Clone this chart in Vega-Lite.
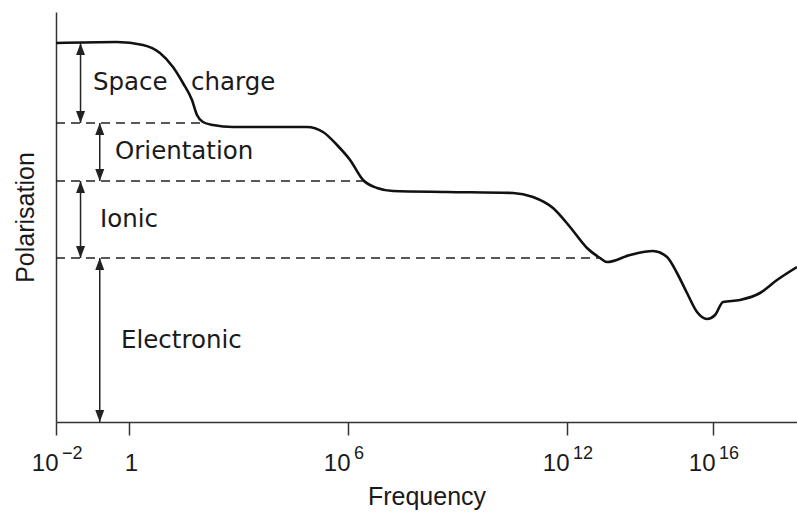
{
  "$schema": "https://vega.github.io/schema/vega-lite/v6.json",
  "width": 741,
  "height": 410,
  "autosize": {"type": "none"},
  "padding": {"left": 56, "top": 12, "right": 0, "bottom": 92},
  "background": "white",
  "config": {"view": {"stroke": null}, "font": "Liberation Sans"},
  "datasets": {
    "curve": [
      {"frequency": 0.01, "polarisation": 37.9},
      {"frequency": 0.468, "polarisation": 38.0},
      {"frequency": 2.42, "polarisation": 37.7},
      {"frequency": 7.06, "polarisation": 36.9},
      {"frequency": 16.0, "polarisation": 35.5},
      {"frequency": 30.1, "polarisation": 33.9},
      {"frequency": 53.2, "polarisation": 32.2},
      {"frequency": 72.9, "polarisation": 30.7},
      {"frequency": 106, "polarisation": 30.0},
      {"frequency": 200, "polarisation": 29.7},
      {"frequency": 706, "polarisation": 29.5},
      {"frequency": 13700, "polarisation": 29.5},
      {"frequency": 75300, "polarisation": 29.5},
      {"frequency": 2.07e5, "polarisation": 29.0},
      {"frequency": 5.0e5, "polarisation": 27.7},
      {"frequency": 1.14e6, "polarisation": 26.2},
      {"frequency": 2.58e6, "polarisation": 24.2},
      {"frequency": 6.24e6, "polarisation": 23.4},
      {"frequency": 1.71e7, "polarisation": 23.1},
      {"frequency": 5.15e8, "polarisation": 23.0},
      {"frequency": 3.32e10, "polarisation": 22.9},
      {"frequency": 1.17e11, "polarisation": 22.5},
      {"frequency": 4.13e11, "polarisation": 21.4},
      {"frequency": 1.21e12, "polarisation": 19.5},
      {"frequency": 3.53e12, "polarisation": 17.4},
      {"frequency": 8.02e12, "polarisation": 16.4},
      {"frequency": 1.25e13, "polarisation": 16.0},
      {"frequency": 5.32e13, "polarisation": 16.7},
      {"frequency": 2.27e14, "polarisation": 17.1},
      {"frequency": 5.5e14, "polarisation": 16.5},
      {"frequency": 1.03e15, "polarisation": 14.9},
      {"frequency": 1.94e15, "polarisation": 12.9},
      {"frequency": 3.65e15, "polarisation": 11.0},
      {"frequency": 6.85e15, "polarisation": 10.3},
      {"frequency": 1.14e16, "polarisation": 10.7},
      {"frequency": 1.88e16, "polarisation": 12.0},
      {"frequency": 5.5e16, "polarisation": 12.2},
      {"frequency": 1.94e17, "polarisation": 12.9},
      {"frequency": 5.66e17, "polarisation": 14.2},
      {"frequency": 2.0e18, "polarisation": 15.5}
    ],
    "levels": [
      {"mechanism": "Space charge", "level": 29.9, "start": 0.01, "end": 120},
      {"mechanism": "Orientation", "level": 24.1, "start": 0.01, "end": 2.58e6},
      {"mechanism": "Ionic", "level": 16.4, "start": 0.01, "end": 8.0e12}
    ],
    "arrows": [
      {"mechanism": "Space charge", "f": 0.047, "top": 37.9, "bottom": 29.9},
      {"mechanism": "Orientation", "f": 0.158, "top": 29.9, "bottom": 24.1},
      {"mechanism": "Ionic", "f": 0.047, "top": 24.1, "bottom": 16.4},
      {"mechanism": "Electronic", "f": 0.158, "top": 16.4, "bottom": 0}
    ],
    "labels": [
      {"text": "Space\u00a0\u00a0\u00a0charge", "f": 0.103, "p": 33.2},
      {"text": "Orientation", "f": 0.413, "p": 26.3},
      {"text": "Ionic", "f": 0.16, "p": 19.5},
      {"text": "Electronic", "f": 0.604, "p": 7.4}
    ],
    "exponents": [
      {"f": 0.01, "exp": "−2"},
      {"f": 1e6, "exp": "6"},
      {"f": 1e12, "exp": "12"},
      {"f": 1e16, "exp": "16"}
    ]
  },
  "layer": [
    {
      "data": {"name": "curve"},
      "mark": {"type": "line", "interpolate": "monotone", "color": "#111", "strokeWidth": 2.6},
      "encoding": {
        "x": {
          "field": "frequency",
          "type": "quantitative",
          "scale": {"type": "log", "domain": [0.01, 2e18], "nice": false},
          "axis": {
            "title": "Frequency",
            "values": [0.01, 1, 1e6, 1e12, 1e16],
            "labelExpr": "datum.value > 0.5 && datum.value < 2 ? '1' : '10'",
            "labelAlign": {"condition": {"test": "datum.value > 0.5 && datum.value < 2", "value": "center"}, "value": "right"},
            "labelOffset": 2,
            "grid": false,
            "tickSize": 13,
            "tickColor": "#333",
            "tickWidth": 1.5,
            "domainColor": "#333",
            "domainWidth": 1.5,
            "labelFontSize": 24,
            "labelPadding": 16,
            "labelColor": "#1a1a1a",
            "labelFlush": false,
            "labelOverlap": false,
            "titleFontSize": 25,
            "titleFontWeight": "normal",
            "titlePadding": 9,
            "titleColor": "#1a1a1a"
          }
        },
        "y": {
          "field": "polarisation",
          "type": "quantitative",
          "scale": {"domain": [0, 41], "nice": false},
          "axis": {
            "title": "Polarisation",
            "ticks": false,
            "labels": false,
            "grid": false,
            "domainColor": "#333",
            "domainWidth": 1.5,
            "titleFontSize": 25,
            "titleFontWeight": "normal",
            "titlePadding": 18,
            "titleColor": "#1a1a1a"
          }
        }
      }
    },
    {
      "data": {"name": "levels"},
      "mark": {"type": "rule", "color": "#222", "strokeWidth": 1.5, "strokeDash": [9, 6]},
      "encoding": {
        "x": {"field": "start", "type": "quantitative"},
        "x2": {"field": "end"},
        "y": {"field": "level", "type": "quantitative"}
      }
    },
    {
      "data": {"name": "arrows"},
      "mark": {"type": "rule", "color": "#222", "strokeWidth": 1.5},
      "encoding": {
        "x": {"field": "f", "type": "quantitative"},
        "y": {"field": "bottom", "type": "quantitative"},
        "y2": {"field": "top"}
      }
    },
    {
      "data": {"name": "arrows"},
      "mark": {"type": "point", "filled": true, "color": "#222", "opacity": 1, "size": 100, "shape": "M0,0L-0.9,2.4L0.9,2.4Z"},
      "encoding": {
        "x": {"field": "f", "type": "quantitative"},
        "y": {"field": "top", "type": "quantitative"}
      }
    },
    {
      "data": {"name": "arrows"},
      "mark": {"type": "point", "filled": true, "color": "#222", "opacity": 1, "size": 100, "shape": "M0,0L-0.9,-2.4L0.9,-2.4Z"},
      "encoding": {
        "x": {"field": "f", "type": "quantitative"},
        "y": {"field": "bottom", "type": "quantitative"}
      }
    },
    {
      "data": {"name": "labels"},
      "mark": {"type": "text", "align": "left", "baseline": "alphabetic", "font": "DejaVu Sans", "fontSize": 24.5, "color": "#1a1a1a"},
      "encoding": {
        "x": {"field": "f", "type": "quantitative"},
        "y": {"field": "p", "type": "quantitative"},
        "text": {"field": "text"}
      }
    },
    {
      "data": {"name": "exponents"},
      "mark": {"type": "text", "align": "left", "baseline": "alphabetic", "dx": 6, "dy": 37, "font": "Liberation Sans", "fontSize": 18, "color": "#1a1a1a"},
      "encoding": {
        "x": {"field": "f", "type": "quantitative"},
        "y": {"datum": 0, "type": "quantitative"},
        "text": {"field": "exp"}
      }
    }
  ]
}
